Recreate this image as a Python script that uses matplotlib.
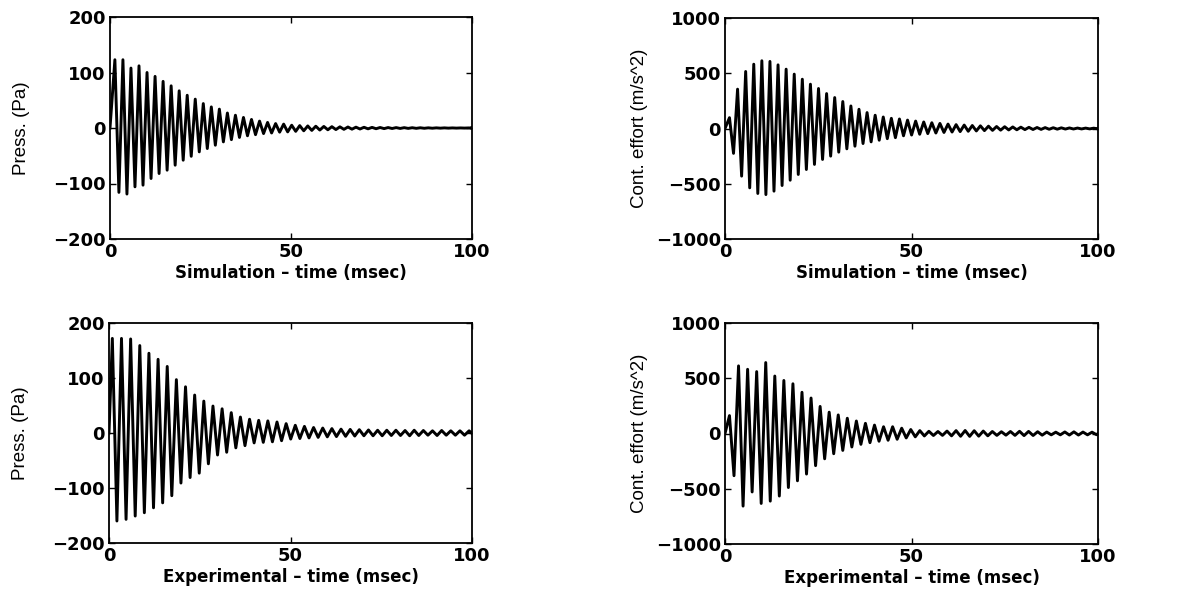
import numpy as np
import matplotlib
matplotlib.use("Agg")
import matplotlib.pyplot as plt

# Peak values, one per oscillation cycle
# simulation - pressure (Pa)
sim_press_pos = [123, 123, 108, 112, 100, 93, 84, 76, 67, 59, 52, 44, 38, 34, 27, 23,
                 19, 15.4, 12.4, 10, 8, 7, 5, 4.3, 3.7, 3.2, 2.8, 2.4, 2.1, 1.8, 1.5,
                 1.3, 1.1, 0.9, 0.8, 0.7, 0.6, 0.5, 0.4, 0.3, 0.25, 0.2, 0.15, 0.1, 0.1]
sim_press_neg = [-116, -119, -106, -103, -91, -82, -76, -67, -58, -51, -43, -37, -31, -25,
                 -21, -17, -14, -12, -10, -9, -7.5, -7, -6, -5, -4.3, -3.7, -3.2, -2.8,
                 -2.4, -2.1, -1.8, -1.5, -1.3, -1.1, -0.9, -0.8, -0.7, -0.6, -0.5, -0.4,
                 -0.3, -0.25, -0.2, -0.15, -0.1]
# simulation - control effort (m/s^2)
sim_ctrl_pos = [98, 356, 516, 582, 613, 607, 576, 537, 492, 446, 401, 362, 316, 280, 244,
                204, 174, 144, 120, 104, 92, 86, 76, 67, 59, 52, 46, 40, 35, 31, 27, 24,
                21, 18, 16, 14, 12, 10.5, 9, 8, 7, 6, 5, 4, 3.5, 3]
sim_ctrl_neg = [-225, -431, -537, -588, -598, -567, -516, -468, -416, -371, -325, -280,
                -250, -214, -184, -160, -136, -121, -106, -92, -83, -66, -59, -52, -46,
                -41, -36, -32, -28, -25, -22, -19, -17, -15, -13, -11.5, -10, -9, -8, -7,
                -6, -5, -4.5, -4, -3.5, -3]
# experimental - pressure (Pa)
exp_press_pos = [172, 172, 171, 159, 145, 134, 121, 97, 84, 69, 58, 49, 44, 37, 29, 25,
                 23, 22, 20, 17, 14, 12, 10, 9, 8, 7, 6.5, 6, 5.5, 5, 5, 5, 4.5, 5, 4.5,
                 4, 4.5, 4, 4, 4]
exp_press_neg = [-160, -157, -151, -145, -136, -127, -114, -91, -81, -73, -56, -40, -35,
                 -27, -23, -18, -17, -16, -14, -11, -10, -9, -8, -7, -6.5, -6, -5.5, -5,
                 -5, -5, -4.5, -4.5, -5, -4.5, -4, -4.5, -4, -4, -4, -4]
# experimental - control effort (m/s^2)
exp_ctrl_pos = [162, 612, 581, 560, 642, 520, 480, 450, 373, 321, 245, 193, 168, 138, 113,
                92, 76, 61, 61, 48, 36, 26, 20, 18, 22, 26, 27, 25, 22, 18, 16, 18, 20,
                19, 16, 13, 12, 14, 15, 13, 12]
exp_ctrl_neg = [-382, -657, -529, -633, -612, -566, -489, -428, -367, -291, -229, -183,
                -153, -122, -98, -83, -70, -61, -52, -40, -30, -22, -18, -17, -21, -25,
                -26, -24, -21, -17, -15, -17, -19, -18, -15, -12, -12, -14, -14, -12, -11]

# first peak time and period (msec)
sim_press_t0, sim_press_T = 1.35, 2.22
sim_ctrl_t0, sim_ctrl_T = 1.2, 2.17
exp_press_t0, exp_press_T = 0.92, 2.52
exp_ctrl_t0, exp_ctrl_T = 1.2, 2.43


def trace(pos, neg, t0, T):
    n = min(len(pos), len(neg))
    t = [0.0]
    y = [0.0]
    for i in range(n):
        t += [t0 + i * T, t0 + (i + 0.5) * T]
        y += [pos[i], neg[i]]
    t.append(100.0)
    y.append(0.0)
    return np.array(t), np.array(y)


W, H = 1186, 594
fig = plt.figure(figsize=(W / 100, H / 100), dpi=100)
plt.rcParams['font.family'] = ['DejaVu Sans']

panels = [
    # (left, top, right, bottom) in pixels, ylabel offset
    ((110, 17, 472, 239), sim_press_pos, sim_press_neg, sim_press_t0, sim_press_T,
     200, 100, "Press. (Pa)", "Simulation \u2013 time (msec)", 80),
    ((725, 18, 1098, 239), sim_ctrl_pos, sim_ctrl_neg, sim_ctrl_t0, sim_ctrl_T,
     1000, 500, "Cont. effort (m/s^2)", "Simulation \u2013 time (msec)", 77),
    ((109, 323, 472, 543), exp_press_pos, exp_press_neg, exp_press_t0, exp_press_T,
     200, 100, "Press. (Pa)", "Experimental \u2013 time (msec)", 80),
    ((725, 323, 1098, 544), exp_ctrl_pos, exp_ctrl_neg, exp_ctrl_t0, exp_ctrl_T,
     1000, 500, "Cont. effort (m/s^2)", "Experimental \u2013 time (msec)", 77),
]

for (l, t, r, b), pos, neg, t0, T, lim, step, ylab, xlab, yoff in panels:
    ax = fig.add_axes([l / W, (H - b) / H, (r - l) / W, (b - t) / H])
    tt, yy = trace(pos, neg, t0, T)
    ax.plot(tt, yy, color="black", lw=2.1, solid_joinstyle="round")
    ax.set_xlim(0, 100)
    ax.set_ylim(-lim, lim)
    ax.set_xticks([0, 50, 100])
    ax.set_yticks(np.arange(-lim, lim + 1, step))
    ax.tick_params(direction="in", top=True, right=True, length=4, width=1,
                   labelsize=13, pad=3)
    for lab in ax.get_xticklabels() + ax.get_yticklabels():
        lab.set_fontweight("bold")
    for s in ax.spines.values():
        s.set_linewidth(1.3)
    ax.set_ylabel(ylab, fontsize=13.5, family=['Liberation Sans', 'DejaVu Sans'])
    ax.set_xlabel(xlab, fontsize=12, fontweight="bold")
    ax.yaxis.set_label_coords(-yoff / (r - l), 0.5)
    ax.xaxis.set_label_coords(0.5, -25 / (b - t))

fig.savefig("out.png", dpi=100)
